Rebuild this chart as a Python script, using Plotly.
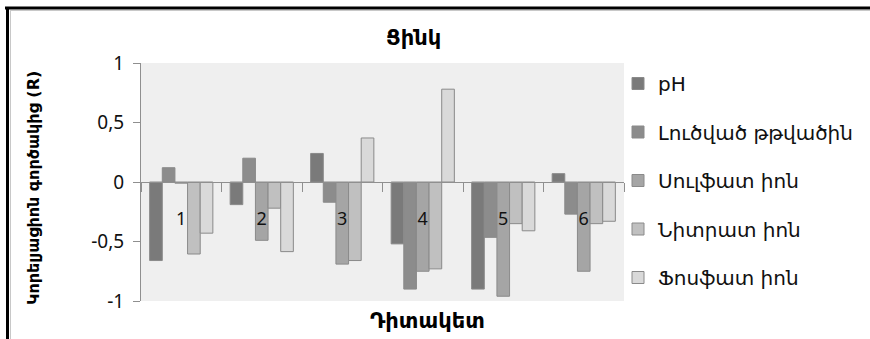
import plotly.graph_objects as go

categories = ["1", "2", "3", "4", "5", "6"]
series_names = ["pH", "Լուծված թթվածին", "Սուլֆատ իոն", "Նիտրատ իոն", "Ֆոսֆատ իոն"]
ph = [-0.66, -0.19, 0.24, -0.52, -0.90, 0.07]
oxygen = [0.12, 0.20, -0.17, -0.90, -0.465, -0.27]
sulfate = [-0.01, -0.49, -0.69, -0.75, -0.96, -0.75]
nitrate = [-0.605, -0.22, -0.66, -0.73, -0.35, -0.35]
phosphate = [-0.43, -0.585, 0.37, 0.78, -0.41, -0.33]
series_values = [ph, oxygen, sulfate, nitrate, phosphate]
colors = ["#7a7a7a", "#8c8c8c", "#a5a5a5", "#c0c0c0", "#d9d9d9"]

title_text = "Ցինկ"
x_title = "Դիտակետ"
y_title = "Կորելյացիոն գործակից (R)"
y_ticks = [1, 0.5, 0, -0.5, -1]
y_tick_labels = ["1", "0,5", "0", "-0,5", "-1"]

W, H = 870, 339
ML, MR, MT, MB = 141, 246, 63, 38
PW, PH_ = W - ML - MR, H - MT - MB

def px(x):
    return (x - ML) / PW

def py(y):
    return 1 - (y - MT) / PH_

FONT = "Noto Sans, DejaVu Sans, sans-serif"
ARM = "DejaVu Sans, Noto Sans, sans-serif"

fig = go.Figure()
for i, (name, vals) in enumerate(zip(series_names, series_values)):
    fig.add_trace(go.Bar(
        x=categories, y=vals, name=name,
        marker=dict(color=colors[i], line=dict(color="#8a8a8a", width=1)),
        legendgroup=f"g{i}",
    ))

fig.update_layout(
    width=W, height=H,
    margin=dict(l=ML, r=MR, t=MT, b=MB, autoexpand=False),
    paper_bgcolor="white",
    plot_bgcolor="#efefef",
    barmode="group",
    bargap=0.215,
    bargroupgap=0,
    font=dict(family=FONT, size=17, color="#111"),
    showlegend=True,
    legend=dict(
        x=px(618), y=py(64), xanchor="left", yanchor="top",
        font=dict(size=20, family=ARM, color="#111"),
        tracegroupgap=19.5, traceorder="grouped",
        itemwidth=30, bgcolor="rgba(0,0,0,0)",
        maxheight=320,
    ),
    xaxis=dict(
        anchor="free", position=0.5,
        showline=True, linecolor="#8f8f8f", linewidth=1,
        ticks="outside", ticklen=9, tickcolor="#8f8f8f", tickson="boundaries",
        ticklabelstandoff=20,
        tickfont=dict(size=18, family=FONT, color="#111"),
        showgrid=False, zeroline=False,
    ),
    yaxis=dict(
        range=[-1, 1], tickvals=y_ticks, ticktext=y_tick_labels,
        showline=True, linecolor="#8f8f8f", linewidth=1,
        ticks="outside", ticklen=7, tickcolor="#8f8f8f",
        ticklabelstandoff=5,
        tickfont=dict(size=19, family=FONT, color="#111"),
        showgrid=False, zeroline=False,
    ),
    annotations=[
        dict(text=f"<b>{title_text}</b>", xref="paper", yref="paper",
             x=px(413), y=py(38), showarrow=False, xanchor="center", yanchor="middle",
             font=dict(size=21, family=ARM, color="#000")),
        dict(text=f"<b>{x_title}</b>", xref="paper", yref="paper",
             x=px(427), y=py(321), showarrow=False, xanchor="center", yanchor="middle",
             font=dict(size=21, family=ARM, color="#000")),
        dict(text=f"<b>{y_title}</b>", xref="paper", yref="paper",
             x=px(33), y=py(188), showarrow=False, xanchor="center", yanchor="middle",
             textangle=-90, font=dict(size=16, family=ARM, color="#000")),
    ],
    shapes=[
        dict(type="line", xref="paper", yref="paper", x0=px(5), x1=px(870), y0=py(8), y1=py(8),
             line=dict(color="#000", width=3)),
        dict(type="line", xref="paper", yref="paper", x0=px(10), x1=px(870), y0=py(10.5), y1=py(10.5),
             line=dict(color="#c8c8c8", width=1)),
        dict(type="line", xref="paper", yref="paper", x0=px(7.5), x1=px(7.5), y0=py(7), y1=py(339),
             line=dict(color="#000", width=3)),
        dict(type="line", xref="paper", yref="paper", x0=px(10.5), x1=px(10.5), y0=py(10), y1=py(339),
             line=dict(color="#c8c8c8", width=1)),
    ],
)

fig.write_html("out.html", config={"displayModeBar": False},
               post_script="document.body.style.margin='0px';document.body.style.overflow='hidden';")
